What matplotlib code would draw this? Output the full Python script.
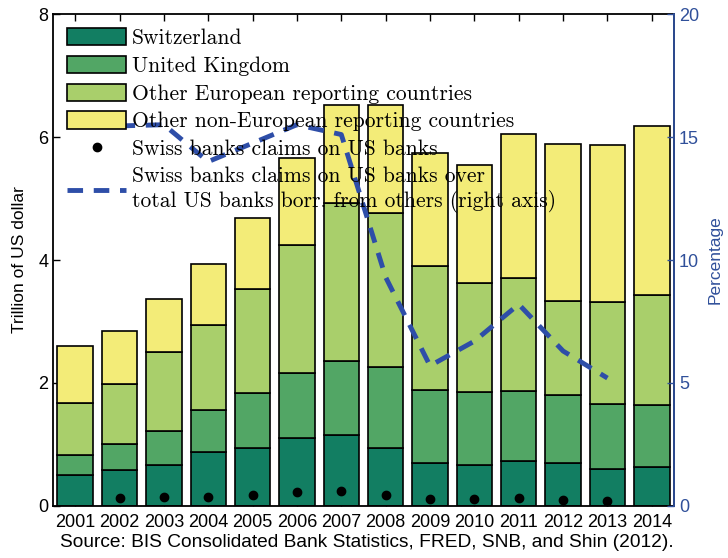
import numpy as np
import matplotlib
matplotlib.use("Agg")
import matplotlib.pyplot as plt
from matplotlib.patches import Patch
from matplotlib.lines import Line2D

years = [2001, 2002, 2003, 2004, 2005, 2006, 2007, 2008, 2009, 2010, 2011, 2012, 2013, 2014]

# trillion USD, by lender country
switzerland = [0.50, 0.59, 0.67, 0.87, 0.95, 1.10, 1.15, 0.94, 0.70, 0.66, 0.73, 0.70, 0.60, 0.64]
united_kingdom = [0.33, 0.42, 0.55, 0.69, 0.89, 1.06, 1.21, 1.32, 1.19, 1.19, 1.14, 1.10, 1.06, 1.00]
other_european = [0.84, 0.97, 1.28, 1.38, 1.69, 2.08, 2.57, 2.50, 2.01, 1.78, 1.84, 1.53, 1.66, 1.79]
other_non_european = [0.93, 0.87, 0.87, 0.99, 1.15, 1.42, 1.59, 1.76, 1.84, 1.91, 2.34, 2.56, 2.55, 2.75]

# Swiss banks' claims on US banks (trillion USD)
swiss_claims = [np.nan, 0.125, 0.15, 0.15, 0.18, 0.22, 0.25, 0.18, 0.11, 0.115, 0.135, 0.10, 0.085, np.nan]
# share of total US banks borrowing from others (%)
swiss_share = [np.nan, 15.45, 15.5, 14.0, 14.75, 15.5, 15.1, 9.3, 5.7, 6.7, 8.2, 6.3, 5.2, np.nan]

colors = ["#127e62", "#52a665", "#a9cf6b", "#f3ec78"]
line_color = "#2e4ea8"
axis_blue = "#30509a"

series = [switzerland, united_kingdom, other_european, other_non_european]
names = ["Switzerland", "United Kingdom", "Other European reporting countries",
         "Other non-European reporting countries"]

plt.rcParams["font.family"] = ["Liberation Sans", "DejaVu Sans"]

fig = plt.figure(figsize=(7.28, 5.58), dpi=100)
ax = fig.add_axes([0.0728, 0.0932, 0.853, 0.8817])

x = np.arange(1, len(years) + 1)
bottom = np.zeros(len(years))
for vals, c in zip(series, colors):
    ax.bar(x, vals, width=0.8, bottom=bottom, color=c, edgecolor="black", linewidth=1.2, zorder=2)
    bottom += np.array(vals)

ax.plot(x, swiss_claims, "o", color="black", markersize=6, zorder=4)

ax.set_xlim(0.5, len(years) + 0.5)
ax.set_ylim(0, 8)
ax.set_yticks([0, 2, 4, 6, 8])
ax.set_xticks(x)
ax.set_xticklabels([str(y) for y in years])
ax.tick_params(axis="both", direction="in", labelsize=13, length=5, width=1, top=True)
ax.tick_params(axis="x", pad=6)
ax.set_ylabel("Trillion of US dollar", fontsize=12.5, labelpad=8)
for s in ax.spines.values():
    s.set_linewidth(1.3)

ax2 = ax.twinx()
ax2.plot(x, swiss_share, color=line_color, linewidth=3.5, dashes=(3.2, 2.2), zorder=3)
ax2.set_ylim(0, 20)
ax2.set_yticks([0, 5, 10, 15, 20])
ax2.tick_params(axis="y", direction="in", colors=axis_blue, labelsize=13, length=5, width=1)
ax2.set_ylabel("Percentage", fontsize=12.5, color=axis_blue, labelpad=6)
ax2.spines["right"].set_color(axis_blue)
ax2.spines["right"].set_linewidth(1.3)
for side in ["left", "top", "bottom"]:
    ax2.spines[side].set_visible(False)

handles = [Patch(facecolor=c, edgecolor="black", linewidth=1.2) for c in colors]
handles.append(Line2D([], [], marker="o", color="black", linestyle="none", markersize=6))
handles.append(Line2D([], [], color=line_color, linewidth=3.5, dashes=(3.2, 2.2)))
labels = names + ["Swiss banks claims on US banks",
                  "Swiss banks claims on US banks over\ntotal US banks borr. from others (right axis)"]
leg = ax2.legend(handles, labels, loc="upper left", frameon=False,
                 prop={"family": "cmr10", "size": 15.5},
                 handlelength=2.75, handleheight=0.85, handletextpad=0.25,
                 labelspacing=0.36, borderaxespad=0.25, bbox_to_anchor=(0.0, 1.0))

fig.text(0.504, 0.012, "Source: BIS Consolidated Bank Statistics, FRED, SNB, and Shin (2012).",
         ha="center", va="bottom", fontsize=13.8)

fig.savefig("out.png", dpi=100)
